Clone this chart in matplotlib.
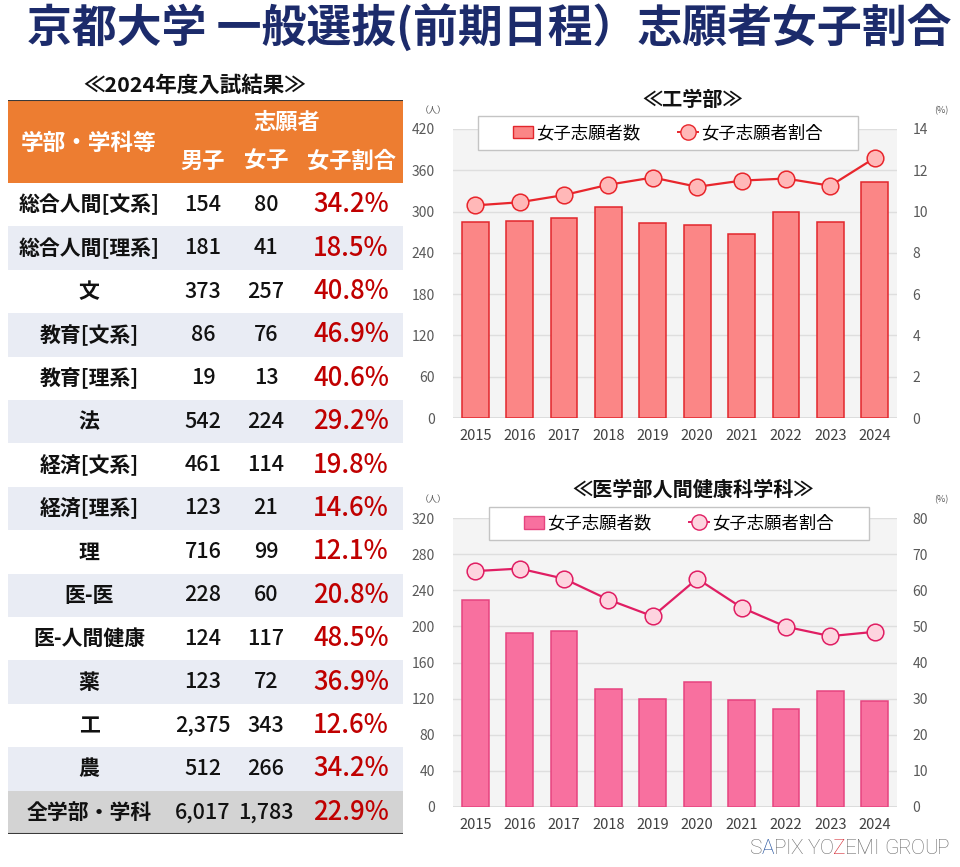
import matplotlib
matplotlib.use('Agg')
import matplotlib.pyplot as plt
from matplotlib.patches import Rectangle, Patch
from matplotlib.lines import Line2D

plt.rcParams['font.family'] = ['Noto Sans CJK JP', 'DejaVu Sans']

# ---------------- data ----------------
title = '京都大学 一般選抜(前期日程）志願者女子割合'
table_title = '≪2024年度入試結果≫'
depts = ['総合人間[文系]', '総合人間[理系]', '文', '教育[文系]', '教育[理系]', '法',
         '経済[文系]', '経済[理系]', '理', '医-医', '医-人間健康', '薬', '工', '農', '全学部・学科']
male = [154, 181, 373, 86, 19, 542, 461, 123, 716, 228, 124, 123, 2375, 512, 6017]
female = [80, 41, 257, 76, 13, 224, 114, 21, 99, 60, 117, 72, 343, 266, 1783]
ratio = [34.2, 18.5, 40.8, 46.9, 40.6, 29.2, 19.8, 14.6, 12.1, 20.8, 48.5, 36.9, 12.6, 34.2, 22.9]

years = [2015, 2016, 2017, 2018, 2019, 2020, 2021, 2022, 2023, 2024]
eng_count = [285, 286, 290, 306, 284, 281, 267, 299, 285, 343]
eng_ratio = [10.3, 10.45, 10.8, 11.3, 11.65, 11.2, 11.5, 11.6, 11.25, 12.6]
med_count = [229, 193, 195, 131, 120, 138, 119, 109, 128, 117]
med_ratio = [65.3, 66.0, 63.2, 57.4, 52.8, 63.2, 55.2, 49.9, 47.3, 48.5]

eng_title = '≪工学部≫'
med_title = '≪医学部人間健康科学科≫'
bar_label = '女子志願者数'
line_label = '女子志願者割合'
footer_text = 'SAPIX YOZEMI GROUP'

# ---------------- figure ----------------
W, H = 960, 867
fig = plt.figure(figsize=(W / 100, H / 100), dpi=100)


def fx(x):
    return x / W


def fy(y):
    return 1 - y / H


fig.text(fx(489), fy(28), title, ha='center', va='center', fontsize=32.3,
         fontweight='bold', color='#1c2b6b')

# ---------------- table ----------------
fig.text(fx(195), fy(85), table_title, ha='center', va='center', fontsize=15.5,
         fontweight='bold', color='#111111')

row_h = 43.4
hdr = 83 / row_h
tab = fig.add_axes([fx(8), fy(834), fx(403) - fx(8), fy(100) - fy(834)])
tab.set_xlim(8, 403)
tab.set_ylim(len(depts), -hdr)
tab.axis('off')

tab.add_patch(Rectangle((8, -hdr), 395, hdr, facecolor='#ed7d31', edgecolor='none'))
for i in range(len(depts)):
    if i == len(depts) - 1:
        fc = '#d3d3d3'
    elif i % 2 == 1:
        fc = '#e9ecf4'
    else:
        fc = 'white'
    tab.add_patch(Rectangle((8, i), 395, 1, facecolor=fc, edgecolor='none'))
tab.plot([8, 403], [-hdr, -hdr], color='#3a3a3a', lw=1.5, solid_capstyle='butt')
tab.plot([8, 403], [len(depts), len(depts)], color='#3a3a3a', lw=1.5, solid_capstyle='butt')

col_name, col_m, col_f, col_r = 89, 203, 266, 351
tab.text(col_name, -hdr + 43 / row_h, '学部・学科等', ha='center', va='center',
         fontsize=16.3, fontweight='bold', color='white')
tab.text(287, -hdr + 22 / row_h, '志願者', ha='center', va='center',
         fontsize=16, fontweight='bold', color='white')
for x, s in [(col_m, '男子'), (col_f, '女子'), (col_r, '女子割合')]:
    tab.text(x, -hdr + 61 / row_h, s, ha='center', va='center',
             fontsize=16, fontweight='bold', color='white')

for i, (d, m, f, r) in enumerate(zip(depts, male, female, ratio)):
    y = i + 0.5
    tab.text(col_name, y, d, ha='center', va='center', fontsize=15,
             fontweight='bold', color='#111111')
    tab.text(col_m, y, f'{m:,}', ha='center', va='center', fontsize=15.5,
             fontweight='medium', color='#111111')
    tab.text(col_f, y, f'{f:,}', ha='center', va='center', fontsize=15.5,
             fontweight='medium', color='#111111')
    tab.text(col_r, y, f'{r:.1f}%', ha='center', va='center', fontsize=18.5,
             fontweight='medium', color='#c00000')


# ---------------- charts ----------------
def chart(top, counts, ratios, ymax, ystep, rmax, rstep, bar_fc, bar_ec,
          line_c, mk_fc, ctitle, title_y, leg_box):
    bottom = top + 289
    ax = fig.add_axes([fx(453), fy(bottom), fx(897) - fx(453), fy(top) - fy(bottom)])
    ax.set_facecolor('#f4f4f4')
    xs = list(range(len(years)))
    ax.bar(xs, counts, width=0.6, color=bar_fc, edgecolor=bar_ec, linewidth=1.1, zorder=3)
    ax.set_xlim(-0.5, len(years) - 0.5)
    ax.set_ylim(0, ymax)
    ax.set_yticks(range(0, ymax + 1, ystep))
    ax.set_xticks(xs)
    ax.set_xticklabels([str(y) for y in years])
    ax.grid(axis='y', color='#dedede', lw=1, zorder=0)
    ax.set_axisbelow(True)
    for s in ax.spines.values():
        s.set_visible(False)
    ax.axhline(0, color='#d9d9d9', lw=1.2, zorder=2)
    ax.tick_params(axis='y', length=0, pad=13, labelsize=10, labelcolor='#595959')
    ax.tick_params(axis='x', length=0, pad=8, labelsize=10.5, labelcolor='#404040')

    axr = ax.twinx()
    axr.set_ylim(0, rmax)
    axr.set_yticks(range(0, rmax + 1, rstep))
    for s in axr.spines.values():
        s.set_visible(False)
    axr.tick_params(axis='y', length=0, pad=11, labelsize=10, labelcolor='#595959')
    axr.plot(xs, ratios, color=line_c, lw=1.6, marker='o', markersize=12,
             markerfacecolor=mk_fc, markeredgecolor=line_c, markeredgewidth=1.1, zorder=5)

    fig.text(fx(693), fy(title_y), ctitle, ha='center', va='center', fontsize=14.5,
             fontweight='bold', color='#111111')
    fig.text(fx(433), fy(top - 18), '（人）', ha='center', va='center', fontsize=6.5,
             color='#595959')
    fig.text(fx(941), fy(top - 18), '(%)', ha='center', va='center', fontsize=6.5,
             color='#595959')

    x0, y0, x1, y1 = leg_box
    fig.patches.append(Rectangle((fx(x0), fy(y1)), fx(x1) - fx(x0), fy(y0) - fy(y1),
                                 transform=fig.transFigure, facecolor='white',
                                 edgecolor='#c4c4c4', linewidth=1, zorder=10))
    handles = [Patch(facecolor=bar_fc, edgecolor=bar_ec, linewidth=1),
               Line2D([], [], color=line_c, lw=1.4, marker='o', markersize=11,
                      markerfacecolor=mk_fc, markeredgecolor=line_c)]
    leg = fig.legend(handles, [bar_label, line_label], loc='center',
                     bbox_to_anchor=(fx((x0 + x1) / 2), fy((y0 + y1) / 2)),
                     ncol=2, frameon=False, fontsize=12.5, handlelength=1.15,
                     handleheight=0.75, handletextpad=0.15, columnspacing=2.2)
    leg.set_zorder(11)
    return ax, axr


chart(129, eng_count, eng_ratio, 420, 60, 14, 2, '#fb8686', '#e2262c',
      '#e8262c', '#ffb8b8', eng_title, 100, (478, 116, 858, 150))
chart(518, med_count, med_ratio, 320, 40, 80, 10, '#f8709f', '#e6437f',
      '#e01e63', '#fdd4df', med_title, 489, (489, 507, 869, 540))

# ---------------- footer ----------------
renderer = fig.canvas.get_renderer()
special = {1: '#1f4e9c', 8: '#d2202a'}
x_start, x_end, space_w = 750, 950, 6
items = []
for k, ch in enumerate(footer_text):
    if ch == ' ':
        items.append((None, space_w))
        continue
    t = fig.text(0, fy(848), ch, ha='left', va='center', fontsize=15,
                 family=['Roboto', 'DejaVu Sans'], fontweight='light',
                 color=special.get(k, '#6b6b6b'))
    items.append((t, t.get_window_extent(renderer).width))
total_w = sum(w for _, w in items)
gap = (x_end - x_start - total_w) / (len(items) - 1)
xpos = x_start
for t, w in items:
    if t is not None:
        t.set_x(fx(xpos))
    xpos += w + gap

fig.savefig('out.png', dpi=100)
